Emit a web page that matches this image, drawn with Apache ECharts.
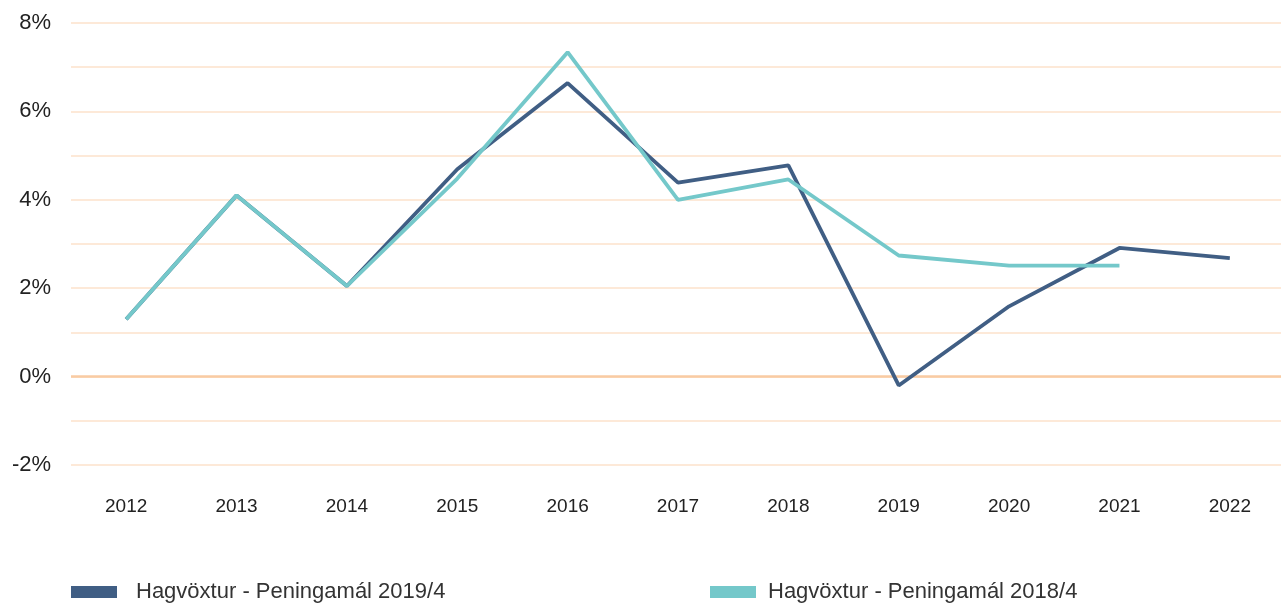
<!DOCTYPE html>
<html>
<head>
<meta charset="utf-8">
<script src="https://cdn.jsdelivr.net/npm/echarts@6/dist/echarts.min.js"></script>
<style>
html,body{margin:0;padding:0;background:#fff;overflow:hidden;}
#chart{width:1290px;height:605px;}
</style>
</head>
<body>
<div id="chart"></div>
<script>
const years = ['2012','2013','2014','2015','2016','2017','2018','2019','2020','2021','2022'];
const seriesNames = ['Hagvöxtur - Peningamál 2019/4', 'Hagvöxtur - Peningamál 2018/4'];
const pm2019 = [1.3, 4.1, 2.05, 4.69, 6.64, 4.39, 4.78, -0.2, 1.59, 2.91, 2.68];
const pm2018 = [1.3, 4.1, 2.05, 4.48, 7.34, 4.0, 4.46, 2.74, 2.51, 2.51, null];
const yTicks = [-2, -1, 0, 1, 2, 3, 4, 5, 6, 7, 8];

const FONT = 'Liberation Sans';
const chart = echarts.init(document.getElementById('chart'), null, {renderer:'canvas'});
chart.setOption({
  animation:false,
  backgroundColor:'#ffffff',
  textStyle:{fontFamily:FONT},
  grid:{left:71, right:5, top:23, bottom:140, containLabel:false},
  legend:[
    {data:[seriesNames[0]], left:71, top:581, padding:0, itemWidth:46, itemHeight:12, itemGap:0,
     icon:'rect', textStyle:{fontSize:22, color:'#333', fontFamily:FONT, padding:[0,0,0,14]}},
    {data:[seriesNames[1]], left:710, top:581, padding:0, itemWidth:46, itemHeight:12, itemGap:0,
     icon:'rect', textStyle:{fontSize:22, color:'#333', fontFamily:FONT, padding:[0,0,0,7]}}
  ],
  xAxis:{
    type:'category', data:years, boundaryGap:true,
    axisLine:{show:false}, axisTick:{show:false},
    axisLabel:{color:'#222', fontSize:19, margin:32, fontFamily:FONT}
  },
  yAxis:{
    type:'value', min:yTicks[0], max:yTicks[yTicks.length-1], interval:1,
    axisLine:{show:false}, axisTick:{show:false},
    axisLabel:{color:'#222', fontSize:22, margin:20, fontFamily:FONT,
      formatter:function(v){ return (v % 2 === 0) ? v + '%' : ''; }},
    splitLine:{show:true, lineStyle:{color:'#fde2cb', width:1.5}}
  },
  series:[
    {name:seriesNames[0], type:'line', data:pm2019, symbol:'none', z:2,
     lineStyle:{color:'#405e84', width:3.8}, itemStyle:{color:'#405e84'},
     markLine:{silent:true, symbol:'none', label:{show:false},
       lineStyle:{color:'#f9cba3', width:2.5, type:'solid'}, data:[{yAxis:0}], z:1}},
    {name:seriesNames[1], type:'line', data:pm2018, symbol:'none', z:3,
     lineStyle:{color:'#74c8ca', width:3.8}, itemStyle:{color:'#74c8ca'}}
  ]
});
</script>
</body>
</html>
